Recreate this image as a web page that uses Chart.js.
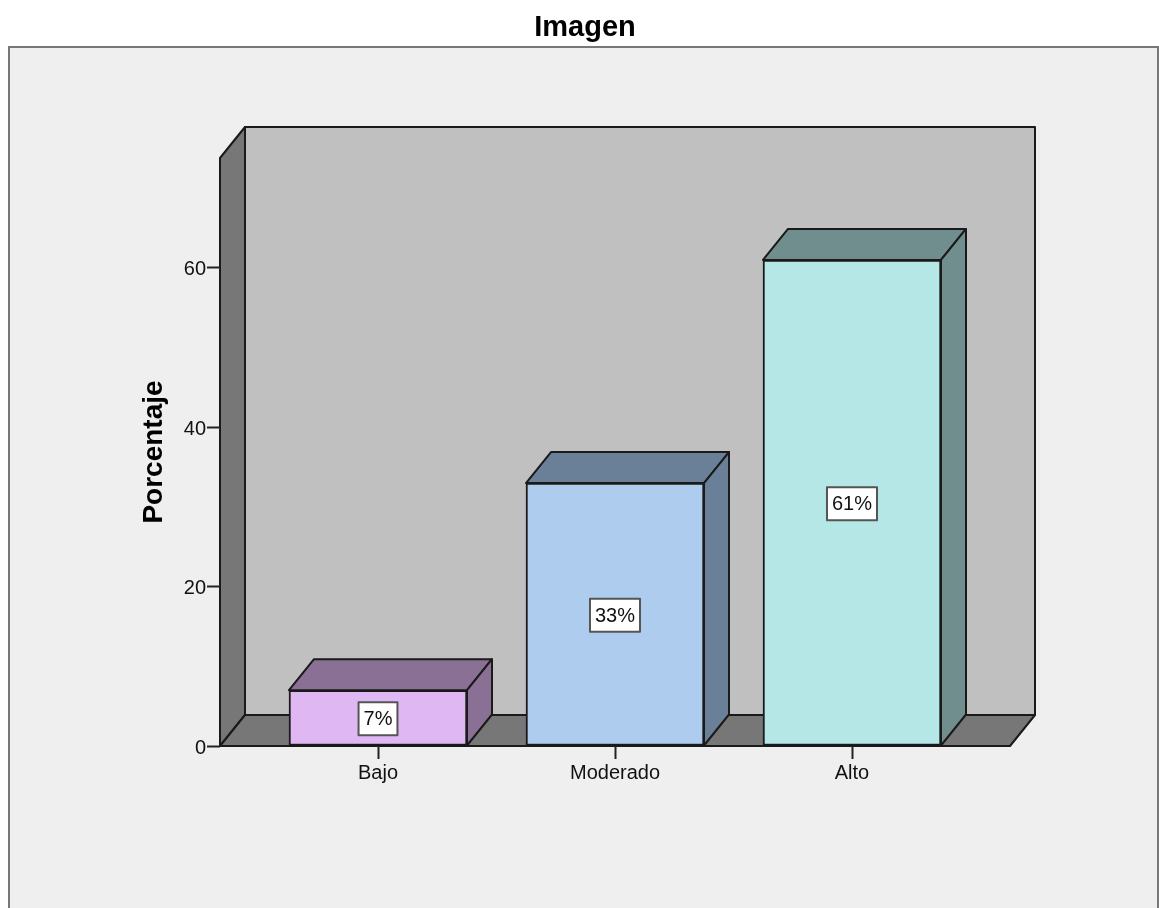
<!DOCTYPE html>
<html>
<head>
<meta charset="utf-8">
<title>Imagen</title>
<script src="https://cdn.jsdelivr.net/npm/chart.js@4"></script>
<style>
    body { margin: 0; background: #fff; overflow: hidden; }
    canvas { display: block; }
</style>
</head>
<body>
<canvas id="myChart" width="1159" height="908"></canvas>
<script>
const categorias = ['Bajo', 'Moderado', 'Alto'];
const valores = [7, 33, 61];
const rotulos = ['7%', '33%', '61%'];
const ticksY = [0, 20, 40, 60];
const coresFrente = ['#dfb8f3', '#aecdee', '#b5e7e7'];
const coresLado = ['#8a7094', '#6a8098', '#708e8e'];

const profX = 25;
const profY = 31;
const fonte = '"Liberation Sans", Arial, sans-serif';

function poligono(ctx, pontos, cor) {
    ctx.beginPath();
    pontos.forEach(function (p, i) {
        if (i == 0) ctx.moveTo(p[0], p[1]);
        else ctx.lineTo(p[0], p[1]);
    });
    ctx.closePath();
    ctx.fillStyle = cor;
    ctx.fill();
    ctx.strokeStyle = '#1a1a1a';
    ctx.lineWidth = 2;
    ctx.lineJoin = 'round';
    ctx.stroke();
}

// moldura externa, paredes e piso atras das barras
const fundo3d = {
    id: 'fundo3d',
    afterLayout(chart) {
        chart.titleBlock.left = 11;
        chart.titleBlock.right = 1159;
    },
    beforeDraw(chart) {
        const ctx = chart.ctx;
        const a = chart.chartArea;
        ctx.save();
        ctx.fillStyle = '#efefef';
        ctx.fillRect(9, 47, 1150, 861);
        ctx.strokeStyle = '#777';
        ctx.lineWidth = 2;
        ctx.beginPath();
        ctx.moveTo(9, 908);
        ctx.lineTo(9, 47);
        ctx.lineTo(1158, 47);
        ctx.lineTo(1158, 908);
        ctx.stroke();

        poligono(ctx, [[a.left + profX, a.top - profY], [a.right + profX, a.top - profY], [a.right + profX, a.bottom - profY], [a.left + profX, a.bottom - profY]], '#c0c0c0');
        poligono(ctx, [[a.left, a.top], [a.left + profX, a.top - profY], [a.left + profX, a.bottom - profY], [a.left, a.bottom]], '#777777');
        poligono(ctx, [[a.left, a.bottom], [a.left + profX, a.bottom - profY], [a.right + profX, a.bottom - profY], [a.right, a.bottom]], '#777777');
        ctx.restore();
    },
    // faces de cima e do lado, depois os rotulos de porcentagem
    afterDatasetsDraw(chart) {
        const ctx = chart.ctx;
        ctx.save();
        chart.getDatasetMeta(0).data.forEach(function (barra, i) {
            const esq = barra.x - barra.width / 2;
            const dir = barra.x + barra.width / 2;
            const topo = barra.y;
            const base = barra.base;
            poligono(ctx, [[esq, topo], [esq + profX, topo - profY], [dir + profX, topo - profY], [dir, topo]], coresLado[i]);
            poligono(ctx, [[dir, topo], [dir + profX, topo - profY], [dir + profX, base - profY], [dir, base]], coresLado[i]);

            ctx.font = '20px ' + fonte;
            const larg = ctx.measureText(rotulos[i]).width + 10;
            const alt = 33;
            const meio = (topo + base) / 2 + 1;
            ctx.fillStyle = '#fff';
            ctx.fillRect(barra.x - larg / 2, meio - alt / 2, larg, alt);
            ctx.strokeStyle = '#555';
            ctx.lineWidth = 2;
            ctx.strokeRect(barra.x - larg / 2, meio - alt / 2, larg, alt);
            ctx.fillStyle = '#111';
            ctx.textAlign = 'center';
            ctx.textBaseline = 'middle';
            ctx.fillText(rotulos[i], barra.x, meio + 1);
        });
        ctx.restore();
    }
};

const dados = {
    datasets: [{
        label: 'Porcentaje',
        data: valores.map(function (v, i) { return { x: i, y: v }; }),
        backgroundColor: coresFrente,
        borderColor: '#1a1a1a',
        borderWidth: 2,
        borderSkipped: false,
        barThickness: 178
    }]
};

const config = {
    type: 'bar',
    data: dados,
    plugins: [fundo3d],
    options: {
        responsive: false,
        animation: false,
        layout: { padding: { left: 10, right: 149, top: 0, bottom: 0 } },
        plugins: {
            legend: { display: false },
            tooltip: { enabled: false },
            title: {
                display: true,
                text: 'Imagen',
                color: '#000',
                font: { family: fonte, size: 29, weight: 'bold', lineHeight: 1.2 },
                padding: { top: 10.6, bottom: 112.6 }
            }
        },
        scales: {
            x: {
                type: 'linear',
                offset: false,
                min: -2 / 3,
                max: 8 / 3,
                afterBuildTicks(eixo) {
                    eixo.ticks = categorias.map(function (c, i) { return { value: i }; });
                },
                afterFit(eixo) { eixo.height = 162; },
                grid: { offset: false, drawOnChartArea: false, tickLength: 13, tickColor: '#222', tickWidth: 2 },
                border: { display: false },
                ticks: {
                    autoSkip: false,
                    maxRotation: 0,
                    padding: 2,
                    color: '#111',
                    font: { family: fonte, size: 20 },
                    callback(valor) { return categorias[valor]; }
                }
            },
            y: {
                min: 0,
                max: 73.8,
                afterBuildTicks(eixo) {
                    eixo.ticks = ticksY.map(function (v) { return { value: v }; });
                },
                afterFit(eixo) { eixo.width = 210; },
                grid: { drawOnChartArea: false, tickLength: 13, tickColor: '#222', tickWidth: 2 },
                border: { display: false },
                ticks: {
                    padding: 1,
                    labelOffset: 2,
                    color: '#111',
                    font: { family: fonte, size: 20 }
                },
                title: {
                    display: true,
                    text: 'Porcentaje',
                    color: '#000',
                    font: { family: fonte, size: 28, weight: 'bold', lineHeight: 1.2 },
                    padding: { top: 127, bottom: 0 }
                }
            }
        }
    }
};

const ctx = document.getElementById('myChart');
const myChart = new Chart(ctx, config);
</script>
</body>
</html>
